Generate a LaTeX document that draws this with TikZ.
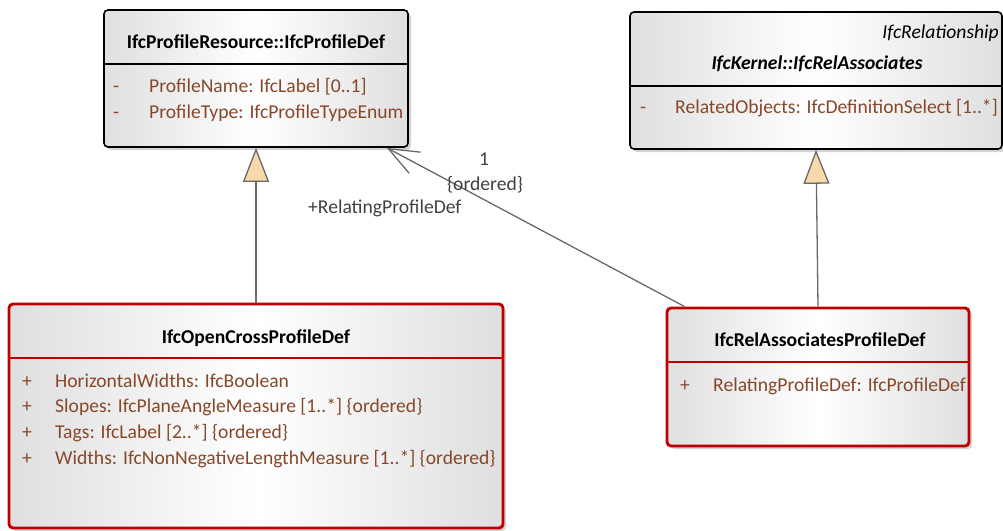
\documentclass[tikz,border=0pt]{standalone}
\usepackage{fontspec}
\setmainfont{Carlito}
\usetikzlibrary{arrows.meta,shadows}
\definecolor{attrbrown}{RGB}{135,72,42}
\definecolor{umlred}{RGB}{192,0,0}
\definecolor{linegray}{RGB}{105,105,105}
\definecolor{gentan}{RGB}{247,217,170}

\begin{document}
\begin{tikzpicture}[x=1pt, y=-1pt,
  every node/.style={font=\fontsize{19.6}{23}\selectfont, inner sep=0pt},
  classbox/.style={draw=black, line width=1.6pt, rounded corners=4pt,
    left color=gray!25, right color=gray!25, middle color=white,
    drop shadow={shadow xshift=3pt, shadow yshift=-3pt, opacity=.35, fill=gray}},
  newbox/.style={classbox, draw=umlred, line width=2.9pt},
  head/.style={anchor=base, font=\fontsize{19.6}{23}\selectfont\bfseries},
  attr/.style={anchor=base west, text=attrbrown},
  conn/.style={draw=linegray, line width=1.3pt}]
\useasboundingbox (0,0) rectangle (1003,530);

% the two classes above
\node[classbox, minimum width=304pt, minimum height=137pt] (profdef) at (256,78.5) {};
\draw[line width=1.6pt] (profdef.west |- 0,64) -- (profdef.east |- 0,64);
\node[head] (profdefname) at (256,48) {IfcProfileResource::IfcProfileDef};
\node[attr] (pdnamevis) at (113,92) {-};
\node[attr] (pdname) at (149,92) {ProfileName: IfcLabel [0..1]};
\node[attr] (pdtypevis) at (113,118) {-};
\node[attr] (pdtype) at (149,118) {ProfileType: IfcProfileTypeEnum};

\node[classbox, minimum width=372pt, minimum height=137pt] (relassoc) at (816,80.5) {};
\draw[line width=1.6pt] (relassoc.west |- 0,86) -- (relassoc.east |- 0,86);
\node[anchor=base east, font=\fontsize{19.6}{23}\selectfont\itshape] (relassocstereo) at (999,38) {IfcRelationship};
\node[head, font=\fontsize{19.6}{23}\selectfont\bfseries\itshape] (relassocname) at (817,69) {IfcKernel::IfcRelAssociates};
\node[attr] (raobjvis) at (640,113) {-};
\node[attr] (raobj) at (675,113) {RelatedObjects: IfcDefinitionSelect [1..*]};

% the two new classes below
\node[newbox, minimum width=494pt, minimum height=224pt] (opencross) at (256,416) {};
\draw[umlred, line width=2.9pt] (opencross.west |- 0,358) -- (opencross.east |- 0,358);
\node[head] (opencrossname) at (256,343) {IfcOpenCrossProfileDef};
\node[attr] (ochwvis) at (22,387) {+};
\node[attr] (ochw) at (55,387) {HorizontalWidths: IfcBoolean};
\node[attr] (ocslvis) at (22,412) {+};
\node[attr] (ocsl) at (55,412) {Slopes: IfcPlaneAngleMeasure [1..*] \{ordered\}};
\node[attr] (octgvis) at (22,438) {+};
\node[attr] (octg) at (55,438) {Tags: IfcLabel [2..*] \{ordered\}};
\node[attr] (ocwdvis) at (22,464) {+};
\node[attr] (ocwd) at (55,464) {Widths: IfcNonNegativeLengthMeasure [1..*] \{ordered\}};

\node[newbox, minimum width=302pt, minimum height=138pt] (relprof) at (818,377) {};
\draw[umlred, line width=2.9pt] (relprof.west |- 0,362) -- (relprof.east |- 0,362);
\node[head] (relprofname) at (820,346) {IfcRelAssociatesProfileDef};
\node[attr] (rprpdvis) at (680,391) {+};
\node[attr] (rprpd) at (713,391) {RelatingProfileDef: IfcProfileDef};

% generalizations
\draw[conn, -{Triangle[length=34pt, width=26pt, fill=gentan]}] (opencross.north) -- (profdef.south);
\draw[conn, -{Triangle[length=34pt, width=26pt, fill=gentan]}] (relprof.north) -- (relassoc.south);

% association
\draw[conn, -{Straight Barb[length=30pt, width=24pt]}] ([xshift=19pt]relprof.north west) -- ([xshift=-22pt]profdef.south east);
\node[anchor=base, text=black!75] (mult) at (484,165) {1};
\node[anchor=base, text=black!75] (ordtag) at (485,190) {\{ordered\}};
\node[anchor=base west, text=black!75] (rolename) at (308,213) {+RelatingProfileDef};
\end{tikzpicture}
\end{document}
